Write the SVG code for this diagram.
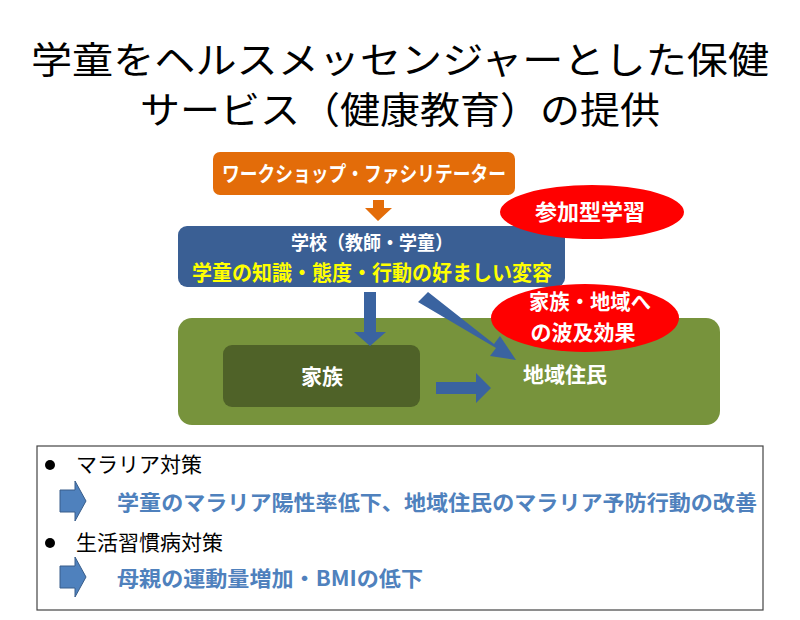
<svg xmlns="http://www.w3.org/2000/svg" width="800" height="620" viewBox="0 0 800 620">
<style>
text{font-family:"Noto Sans CJK JP","Noto Sans CJK SC",sans-serif}
.w{fill:#fff;font-weight:bold;text-anchor:middle}
.arr{fill:#3A63A0}
.blue{fill:#4F81BD;font-size:21px;font-weight:bold}
</style>
<rect width="800" height="620" fill="#fff"/>
<g id="title" font-size="37" text-anchor="middle" fill="#000">
<text x="400" y="74" textLength="738" lengthAdjust="spacingAndGlyphs">学童をヘルスメッセンジャーとした保健</text>
<text x="400" y="124" textLength="520" lengthAdjust="spacingAndGlyphs">サービス（健康教育）の提供</text>
</g>
<g id="community"><rect x="178" y="318" width="542" height="107" rx="14" fill="#77933C"/>
<text class="w" x="565" y="382" font-size="21">地域住民</text></g>
<g id="family"><rect x="223" y="345" width="197" height="62" rx="9" fill="#4F6228"/>
<text class="w" x="322" y="384" font-size="21">家族</text></g>
<g id="workshop"><rect x="213" y="152" width="302" height="43" rx="7" fill="#E36C09"/>
<text class="w" x="364" y="181" font-size="21" textLength="284" lengthAdjust="spacingAndGlyphs">ワークショップ・ファシリテーター</text></g>
<g id="school"><rect x="178" y="226" width="387" height="61" rx="9" fill="#3A5F94"/>
<text class="w" x="372" y="250" font-size="19" textLength="162" lengthAdjust="spacingAndGlyphs">学校（教師・学童）</text>
<text x="372" y="280" font-size="21" font-weight="bold" fill="#FFFF00" text-anchor="middle" textLength="360" lengthAdjust="spacingAndGlyphs">学童の知識・態度・行動の好ましい変容</text></g>
<g id="connectors">
<polygon points="373,200 384,200 384,208 392,208 378,221 365,208 373,208" fill="#E36C09"/>
<polygon points="364,292 376,292 376,332 386,332 370,346 354,332 364,332" class="arr"/>
<polygon points="418,302 428,292 494,344 500,336 516,360 490,356 496,348" class="arr"/>
<polygon points="436,382 476,382 476,373 491,388 476,403 476,394 436,394" class="arr"/>
</g>
<g id="participatory"><ellipse cx="592" cy="212" rx="92" ry="27" fill="#FF0000"/>
<text class="w" x="590" y="220" font-size="22">参加型学習</text></g>
<g id="spillover"><ellipse cx="585" cy="318" rx="94" ry="34" fill="#FF0000"/>
<text class="w" x="590" y="309" font-size="21" textLength="122" lengthAdjust="spacingAndGlyphs">家族・地域へ</text>
<text class="w" x="583" y="340" font-size="21">の波及効果</text></g>
<g id="results">
<rect x="37" y="446" width="726" height="164" fill="#fff" stroke="#444" stroke-width="1.2"/>
<circle cx="50" cy="465" r="5" fill="#000"/>
<text x="76" y="472" font-size="21">マラリア対策</text>
<polygon points="60,490 75,490 75,481 86,501 75,521 75,512 60,512" fill="#4F81BD" stroke="#385D8A"/>
<text class="blue" x="117" y="510" textLength="640" lengthAdjust="spacingAndGlyphs">学童のマラリア陽性率低下、地域住民のマラリア予防行動の改善</text>
<circle cx="50" cy="543" r="5" fill="#000"/>
<text x="76" y="550" font-size="21">生活習慣病対策</text>
<polygon points="60,566 75,566 75,557 86,577 75,597 75,588 60,588" fill="#4F81BD" stroke="#385D8A"/>
<text class="blue" x="117" y="586" textLength="306" lengthAdjust="spacingAndGlyphs">母親の運動量増加・BMIの低下</text>
</g>
</svg>
